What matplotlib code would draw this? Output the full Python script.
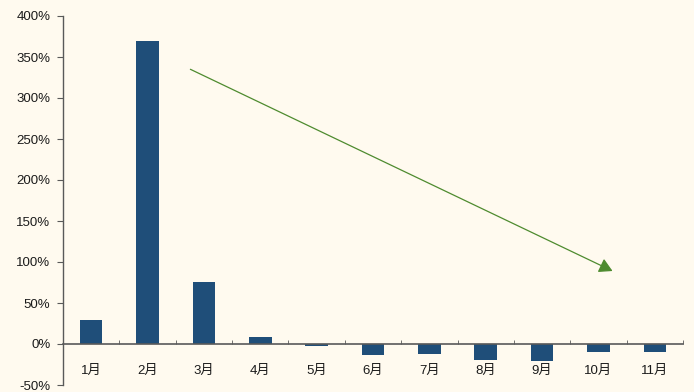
import numpy as np
import matplotlib.pyplot as plt
from matplotlib.ticker import FuncFormatter, MultipleLocator

plt.rcParams['font.family'] = ['Liberation Sans', 'Noto Sans CJK SC']
plt.rcParams['axes.unicode_minus'] = False

months = ['1月', '2月', '3月', '4月', '5月', '6月', '7月', '8月', '9月', '10月', '11月']
growth = [29, 369, 76, 8, -3, -13, -12, -19, -21, -10, -10]  # percent

# trend arrow endpoints (category index, percent)
trend_start = (1.76, 335)
trend_end = (9.25, 89)

bg = '#FFFAEF'
bar_color = '#1F4E79'
axis_color = '#595959'

fig = plt.figure(figsize=(6.94, 3.92), dpi=100)
fig.patch.set_facecolor(bg)
ax = fig.add_axes([63 / 694, 7 / 392, 620 / 694, 369 / 392])
ax.set_facecolor(bg)

x = np.arange(len(months))
ax.bar(x, growth, width=0.4, color=bar_color, zorder=2)

ax.set_xlim(-0.5, len(months) - 0.5)
ax.set_ylim(-50, 400)
ax.yaxis.set_major_locator(MultipleLocator(50))
ax.yaxis.set_major_formatter(FuncFormatter(lambda v, p: f'{v:.0f}%'))

for s in ['top', 'right']:
    ax.spines[s].set_visible(False)
ax.spines['bottom'].set_position(('data', 0))
ax.spines['bottom'].set_color(axis_color)
ax.spines['bottom'].set_linewidth(1.2)
ax.spines['bottom'].set_zorder(3)
ax.spines['left'].set_color(axis_color)
ax.spines['left'].set_linewidth(1.0)

ax.set_xticks(x)
ax.set_xticklabels(months)
ax.set_xticks(np.arange(0.5, len(months), 1), minor=True)
ax.tick_params(axis='x', which='major', length=0, pad=15, labelsize=9.5, labelcolor='#1a1a1a')
ax.tick_params(axis='x', which='minor', direction='in', length=3, color=axis_color)
ax.tick_params(axis='y', direction='out', length=4, color=axis_color, labelsize=9.5,
               labelcolor='#1a1a1a', pad=5)

ax.annotate('', xy=trend_end, xytext=trend_start,
            arrowprops=dict(arrowstyle='-|>,head_length=0.8,head_width=0.45',
                            color='#4E8B2F', lw=0.9, shrinkA=0, shrinkB=0))

fig.savefig('out.png', dpi=100, facecolor=bg)
